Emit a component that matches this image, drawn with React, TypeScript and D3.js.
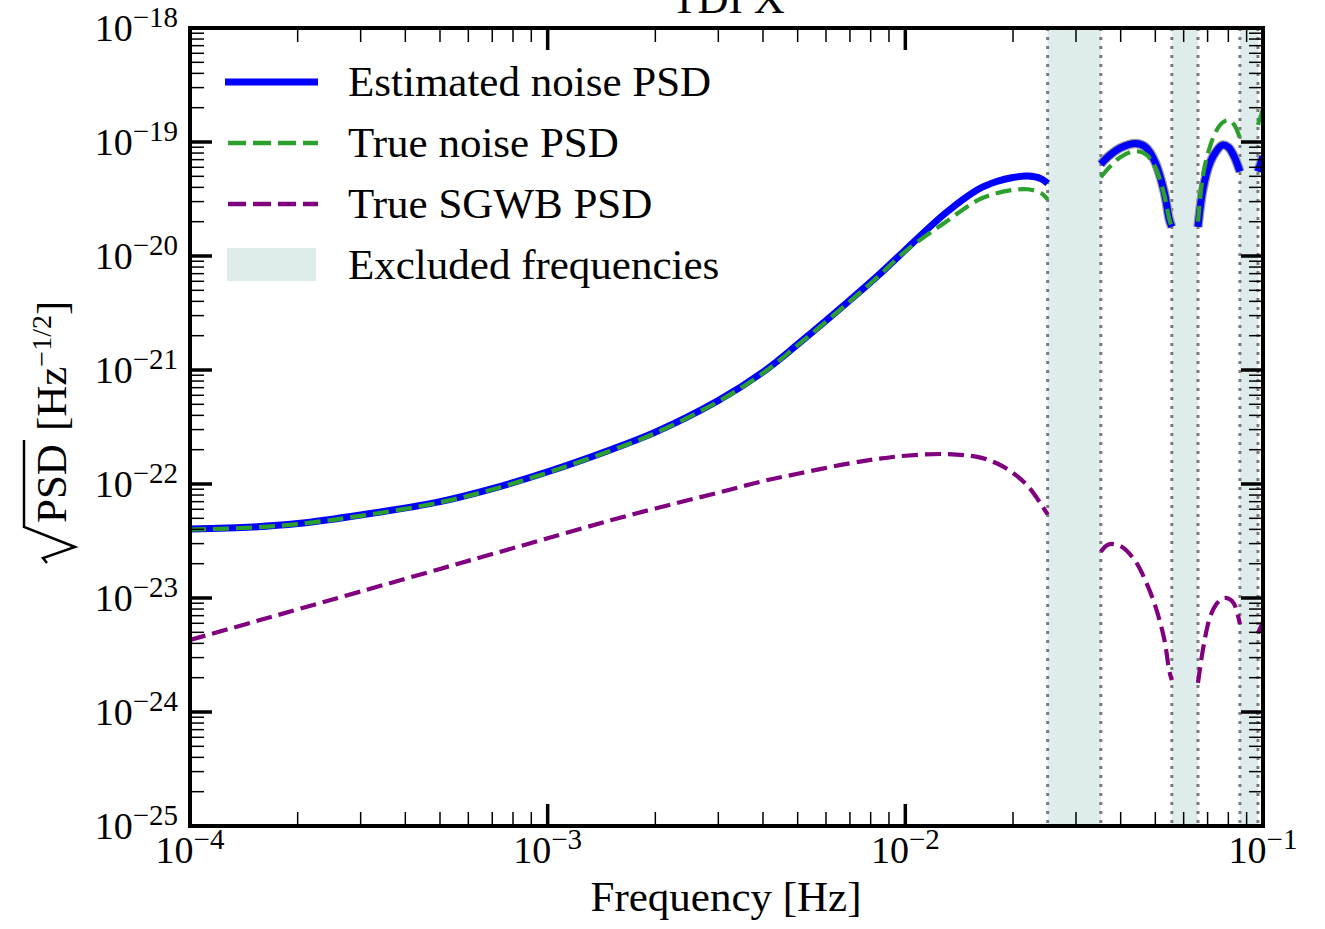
import * as d3 from "d3";

const freqs = [
  1e-4, 1.5e-4, 2e-4, 3e-4, 5e-4, 7e-4, 1e-3, 1.5e-3, 2e-3, 3e-3, 4e-3, 5e-3,
  7e-3, 8.5e-3, 1e-2, 1.3e-2, 1.6e-2, 1.8e-2, 2e-2, 2.2e-2, 2.4e-2, 2.5e-2,
  0.0352, 0.037, 0.04, 0.044, 0.047, 0.05, 0.053, 0.0547, 0.0556,
  0.0658, 0.068, 0.071, 0.074, 0.077, 0.08, 0.083, 0.0862,
  0.0968, 0.1,
];

const estimatedPsd = [
  4.03e-23, 4.2e-23, 4.5e-23, 5.35e-23, 7.0e-23, 9.1e-23, 1.28e-22, 2.0e-22,
  2.85e-22, 5.4e-22, 9.6e-22, 1.68e-21, 4.1e-21, 7.0e-21, 1.13e-20, 2.4e-20,
  3.85e-20, 4.5e-20, 4.88e-20, 5.02e-20, 4.75e-20, 4.34e-20,
  6.4e-20, 7.5e-20, 8.9e-20, 9.7e-20, 9.0e-20, 6.6e-20, 3.6e-20, 2.1e-20, 1.8e-20,
  1.8e-20, 3.9e-20, 6.5e-20, 8.3e-20, 9.4e-20, 9.0e-20, 7.5e-20, 5.5e-20,
  5.5e-20, 7.5e-20,
];

const trueNoisePsd = [
  3.98e-23, 4.15e-23, 4.45e-23, 5.25e-23, 6.9e-23, 8.95e-23, 1.26e-22, 1.96e-22,
  2.8e-22, 5.3e-22, 9.4e-22, 1.65e-21, 4.0e-21, 6.85e-21, 1.1e-20, 2.0e-20,
  3.1e-20, 3.55e-20, 3.8e-20, 3.85e-20, 3.55e-20, 3.14e-20,
  4.9e-20, 5.9e-20, 7.4e-20, 8.3e-20, 7.8e-20, 6.0e-20, 3.4e-20, 2.1e-20, 1.8e-20,
  2.0e-20, 5.2e-20, 9.0e-20, 1.25e-19, 1.48e-19, 1.55e-19, 1.42e-19, 1.08e-19,
  1.41e-19, 1.95e-19,
];

const trueSgwbPsd = [
  4.28e-24, 6.15e-24, 7.94e-24, 1.14e-23, 1.8e-23, 2.43e-23, 3.34e-23, 4.8e-23,
  6.1e-23, 8.4e-23, 1.06e-22, 1.23e-22, 1.52e-22, 1.67e-22, 1.77e-22, 1.83e-22,
  1.72e-22, 1.52e-22, 1.25e-22, 9.6e-23, 6.6e-23, 5.4e-23,
  2.55e-23, 2.95e-23, 2.85e-23, 2.1e-23, 1.4e-23, 8.5e-24, 4.3e-24, 2.3e-24, 1.9e-24,
  1.8e-24, 3.6e-24, 6.7e-24, 8.8e-24, 9.9e-24, 9.9e-24, 8.9e-24, 5.9e-24,
  4.9e-24, 6.2e-24,
];

const excludedBands = [
  [0.025, 0.0352],
  [0.0556, 0.0658],
  [0.0862, 0.0968],
];

const xDecades = [-4, -3, -2, -1];
const yDecades = [-25, -24, -23, -22, -21, -20, -19, -18];
const legendLabels = [
  "Estimated noise PSD",
  "True noise PSD",
  "True SGWB PSD",
  "Excluded frequencies",
];

const W = 1325,
  H = 929;
const plot = { left: 190, right: 1263, top: 28, bottom: 826 };
const font = "'Liberation Serif', 'DejaVu Serif', serif";

const x = d3.scaleLog().domain([1e-4, 0.1]).range([plot.left, plot.right]);
const y = d3.scaleLog().domain([1e-25, 1e-18]).range([plot.bottom, plot.top]);

// split a series where it jumps over an excluded band
function segments(values) {
  const segs = [];
  let cur = [];
  freqs.forEach((f, i) => {
    if (i > 0) {
      const prev = freqs[i - 1];
      if (excludedBands.some(([a, b]) => a >= prev && b <= f)) {
        segs.push(cur);
        cur = [];
      }
    }
    cur.push([f, values[i]]);
  });
  segs.push(cur);
  return segs;
}

const line = d3
  .line()
  .x((d) => x(d[0]))
  .y((d) => y(d[1]))
  .curve(d3.curveCatmullRom.alpha(0.5));

function Pow({ base = "10", exp, ...rest }) {
  return (
    <text fontFamily={font} fontSize={38} fill="black" {...rest}>
      {base}
      <tspan dy={-14} fontSize={29}>
        {"\u2212" + Math.abs(exp)}
      </tspan>
    </text>
  );
}

function Axes() {
  const xt = x.ticks();
  const yt = y.ticks();
  const isMajor = (v) => Math.abs(Math.log10(v) - Math.round(Math.log10(v))) < 1e-6;
  return (
    <g>
      {xt.map((t, i) => {
        const maj = isMajor(t);
        const len = maj ? 22 : 14;
        const sw = maj ? 3.5 : 1.5;
        return (
          <g key={"x" + i}>
            <line x1={x(t)} x2={x(t)} y1={plot.bottom} y2={plot.bottom - len} stroke="black" strokeWidth={sw} />
            <line x1={x(t)} x2={x(t)} y1={plot.top} y2={plot.top + len} stroke="black" strokeWidth={sw} />
          </g>
        );
      })}
      {yt.map((t, i) => {
        const maj = isMajor(t);
        const len = maj ? 22 : 14;
        const sw = maj ? 3.5 : 1.5;
        return (
          <g key={"y" + i}>
            <line x1={plot.left} x2={plot.left + len} y1={y(t)} y2={y(t)} stroke="black" strokeWidth={sw} />
            <line x1={plot.right} x2={plot.right - len} y1={y(t)} y2={y(t)} stroke="black" strokeWidth={sw} />
          </g>
        );
      })}
      <rect
        x={plot.left}
        y={plot.top}
        width={plot.right - plot.left}
        height={plot.bottom - plot.top}
        fill="none"
        stroke="black"
        strokeWidth={4}
      />
      {xDecades.map((e) => (
        <Pow key={"xl" + e} exp={e} x={x(Math.pow(10, e))} y={863} textAnchor="middle" />
      ))}
      {yDecades.map((e) => (
        <Pow key={"yl" + e} exp={e} x={178} y={y(Math.pow(10, e)) + 13} textAnchor="end" />
      ))}
    </g>
  );
}

function Legend() {
  const rows = [82, 143, 204, 265];
  const x0 = 225,
    x1 = 318;
  return (
    <g>
      <line x1={x0} x2={x1} y1={rows[0]} y2={rows[0]} stroke="#0000ff" strokeWidth={7} />
      <line x1={x0 + 3} x2={x1} y1={rows[1]} y2={rows[1]} stroke="#2ca02c" strokeWidth={4.5} strokeDasharray="18,7" />
      <line x1={x0 + 3} x2={x1} y1={rows[2]} y2={rows[2]} stroke="purple" strokeWidth={4.5} strokeDasharray="18,7" />
      <rect x={227} y={rows[3] - 17} width={89} height={33} fill="#dfecec" />
      {legendLabels.map((l, i) => (
        <text key={l} x={348} y={rows[i] + 14} fontFamily={font} fontSize={43} fill="black">
          {l}
        </text>
      ))}
    </g>
  );
}

export default function App() {
  const estSegs = segments(estimatedPsd);
  const noiseSegs = segments(trueNoisePsd);
  const sgwbSegs = segments(trueSgwbPsd);
  return (
    <svg
      width={W}
      height={H}
      viewBox={`0 0 ${W} ${H}`}
      style={{ position: "absolute", left: 0, top: 0, display: "block", background: "white" }}
    >
      <defs>
        <clipPath id="plotClip">
          <rect x={plot.left} y={plot.top} width={plot.right - plot.left} height={plot.bottom - plot.top} />
        </clipPath>
      </defs>
      {/* title sits partly above the top edge, as in the original figure */}
      <text x={728} y={13} textAnchor="middle" fontFamily={font} fontSize={43}>
        TDI X
      </text>
      <g clipPath="url(#plotClip)">
        {excludedBands.map(([a, b], i) => (
          <g key={"band" + i}>
            <rect x={x(a)} y={plot.top} width={x(b) - x(a)} height={plot.bottom - plot.top} fill="#dfecec" />
            {[a, b].map((f) => (
              <line
                key={f}
                x1={x(f)}
                x2={x(f)}
                y1={plot.top}
                y2={plot.bottom}
                stroke="#7a7a7a"
                strokeWidth={3}
                strokeDasharray="3,6"
              />
            ))}
          </g>
        ))}
        {estSegs.map((s, i) =>
          s[0][0] > 0.03 ? (
            <path key={"halo" + i} d={line(s)} fill="none" stroke="#9a9a9a" strokeWidth={9.5} />
          ) : null
        )}
        {estSegs.map((s, i) => (
          <path key={"est" + i} d={line(s)} fill="none" stroke="#0000ff" strokeWidth={7} />
        ))}
        {noiseSegs.map((s, i) => (
          <path key={"noise" + i} d={line(s)} fill="none" stroke="#2ca02c" strokeWidth={4.2} strokeDasharray="16,7" />
        ))}
        {sgwbSegs.map((s, i) => (
          <path key={"sgwb" + i} d={line(s)} fill="none" stroke="purple" strokeWidth={4.2} strokeDasharray="16,7" />
        ))}
      </g>
      <Axes />
      <Legend />
      <text x={726} y={911} textAnchor="middle" fontFamily={font} fontSize={43}>
        Frequency [Hz]
      </text>
      <g transform="translate(66,563) rotate(-90)">
        <path d="M0,-19 L5,-23 L16,9 L36,-42 L123,-42" fill="none" stroke="black" strokeWidth={2.5} />
        <text x={40} y={0} fontFamily={font} fontSize={43}>
          PSD
          <tspan dx={13}>[Hz</tspan>
          <tspan dy={-15} fontSize={28}>
            {"\u22121/2"}
          </tspan>
          <tspan dy={15}>]</tspan>
        </text>
      </g>
    </svg>
  );
}
